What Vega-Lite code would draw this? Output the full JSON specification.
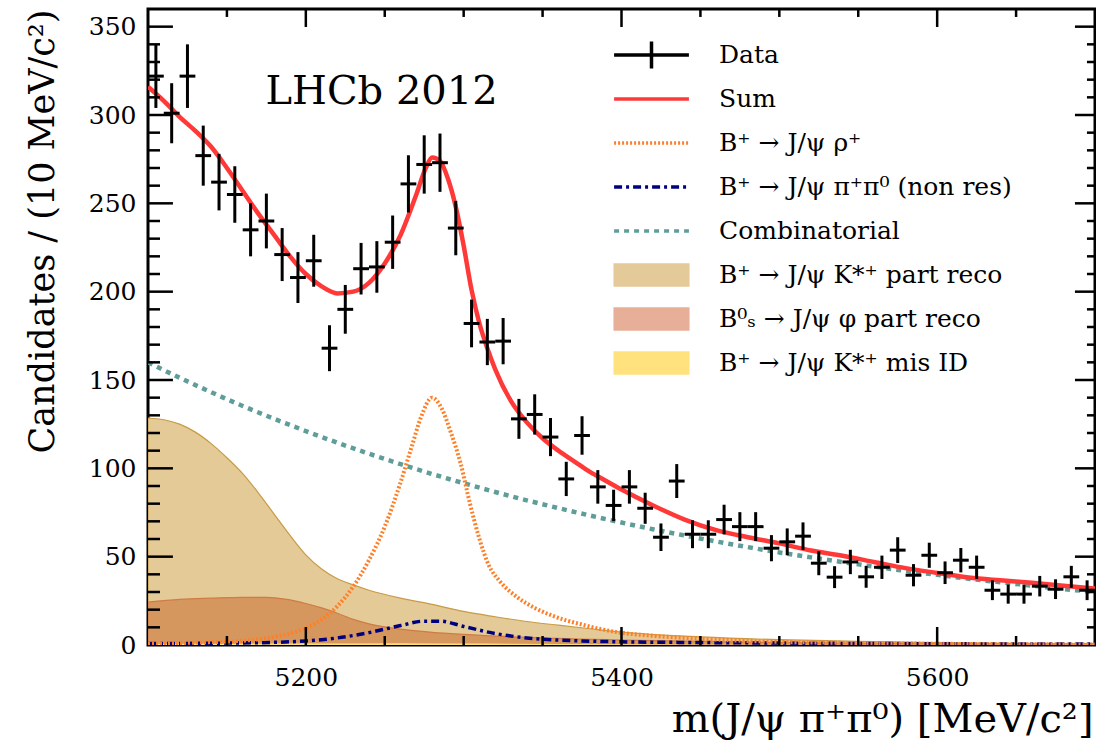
{
  "$schema": "https://vega.github.io/schema/vega-lite/v6.json",
  "width": 947,
  "height": 636,
  "autosize": {"type": "none"},
  "padding": {"left": 148, "top": 9, "right": 1, "bottom": 98},
  "background": "white",
  "config": {
    "view": {"stroke": "#000000", "strokeWidth": 3},
    "axis": {"domain": false, "grid": false, "ticks": false, "tickSize": 0, "labelFont": "DejaVu Serif", "titleFont": "DejaVu Serif", "labelFontSize": 25, "labelColor": "#000000", "titleColor": "#000000", "titleFontWeight": "normal", "labelFlush": false}
  },
  "datasets": {
    "pts": [
      {"m":5105,"n":322,"lo":304,"hi":340,"mlo":5100,"mhi":5110},
      {"m":5115,"n":301,"lo":284,"hi":318,"mlo":5110,"mhi":5120},
      {"m":5125,"n":322,"lo":304,"hi":340,"mlo":5120,"mhi":5130},
      {"m":5135,"n":277,"lo":260,"hi":294,"mlo":5130,"mhi":5140},
      {"m":5145,"n":262,"lo":246,"hi":278,"mlo":5140,"mhi":5150},
      {"m":5155,"n":255,"lo":239,"hi":271,"mlo":5150,"mhi":5160},
      {"m":5165,"n":235,"lo":220,"hi":250,"mlo":5160,"mhi":5170},
      {"m":5175,"n":240,"lo":224.5,"hi":255.5,"mlo":5170,"mhi":5180},
      {"m":5185,"n":221,"lo":206,"hi":236,"mlo":5180,"mhi":5190},
      {"m":5195,"n":208,"lo":193.6,"hi":222.4,"mlo":5190,"mhi":5200},
      {"m":5205,"n":217.5,"lo":202.8,"hi":232.2,"mlo":5200,"mhi":5210},
      {"m":5215,"n":168,"lo":155,"hi":181,"mlo":5210,"mhi":5220},
      {"m":5225,"n":190,"lo":176.2,"hi":203.8,"mlo":5220,"mhi":5230},
      {"m":5235,"n":213,"lo":198.4,"hi":227.6,"mlo":5230,"mhi":5240},
      {"m":5245,"n":214,"lo":199.4,"hi":228.6,"mlo":5240,"mhi":5250},
      {"m":5255,"n":228,"lo":212.9,"hi":243.1,"mlo":5250,"mhi":5260},
      {"m":5265,"n":261,"lo":244.8,"hi":277.2,"mlo":5260,"mhi":5270},
      {"m":5275,"n":272,"lo":255.5,"hi":288.5,"mlo":5270,"mhi":5280},
      {"m":5285,"n":273,"lo":256.5,"hi":289.5,"mlo":5280,"mhi":5290},
      {"m":5295,"n":236,"lo":220.6,"hi":251.4,"mlo":5290,"mhi":5300},
      {"m":5305,"n":182,"lo":168.5,"hi":195.5,"mlo":5300,"mhi":5310},
      {"m":5315,"n":171.5,"lo":158.4,"hi":184.6,"mlo":5310,"mhi":5320},
      {"m":5325,"n":172,"lo":158.9,"hi":185.1,"mlo":5320,"mhi":5330},
      {"m":5335,"n":128,"lo":116.7,"hi":139.3,"mlo":5330,"mhi":5340},
      {"m":5345,"n":130.5,"lo":119.1,"hi":141.9,"mlo":5340,"mhi":5350},
      {"m":5355,"n":117.7,"lo":106.9,"hi":128.5,"mlo":5350,"mhi":5360},
      {"m":5365,"n":94,"lo":84.3,"hi":103.7,"mlo":5360,"mhi":5370},
      {"m":5375,"n":118.6,"lo":107.7,"hi":129.5,"mlo":5370,"mhi":5380},
      {"m":5385,"n":89.5,"lo":80,"hi":99,"mlo":5380,"mhi":5390},
      {"m":5395,"n":79,"lo":70.1,"hi":87.9,"mlo":5390,"mhi":5400},
      {"m":5405,"n":89.5,"lo":80,"hi":99,"mlo":5400,"mhi":5410},
      {"m":5415,"n":77.4,"lo":68.6,"hi":86.2,"mlo":5410,"mhi":5420},
      {"m":5425,"n":61,"lo":53.2,"hi":68.8,"mlo":5420,"mhi":5430},
      {"m":5435,"n":92.8,"lo":83.2,"hi":102.4,"mlo":5430,"mhi":5440},
      {"m":5445,"n":62.7,"lo":54.8,"hi":70.6,"mlo":5440,"mhi":5450},
      {"m":5455,"n":62.7,"lo":54.8,"hi":70.6,"mlo":5450,"mhi":5460},
      {"m":5465,"n":71,"lo":62.6,"hi":79.4,"mlo":5460,"mhi":5470},
      {"m":5475,"n":67,"lo":58.8,"hi":75.2,"mlo":5470,"mhi":5480},
      {"m":5485,"n":67,"lo":58.8,"hi":75.2,"mlo":5480,"mhi":5490},
      {"m":5495,"n":54.8,"lo":47.4,"hi":62.2,"mlo":5490,"mhi":5500},
      {"m":5505,"n":58.4,"lo":50.8,"hi":66,"mlo":5500,"mhi":5510},
      {"m":5515,"n":61.6,"lo":53.8,"hi":69.4,"mlo":5510,"mhi":5520},
      {"m":5525,"n":46.3,"lo":39.5,"hi":53.1,"mlo":5520,"mhi":5530},
      {"m":5535,"n":38.4,"lo":32.2,"hi":44.6,"mlo":5530,"mhi":5540},
      {"m":5545,"n":47,"lo":40.1,"hi":53.9,"mlo":5540,"mhi":5550},
      {"m":5555,"n":38.6,"lo":32.4,"hi":44.8,"mlo":5550,"mhi":5560},
      {"m":5565,"n":44,"lo":37.4,"hi":50.6,"mlo":5560,"mhi":5570},
      {"m":5575,"n":53.7,"lo":46.4,"hi":61,"mlo":5570,"mhi":5580},
      {"m":5585,"n":39.5,"lo":33.2,"hi":45.8,"mlo":5580,"mhi":5590},
      {"m":5595,"n":50.8,"lo":43.7,"hi":57.9,"mlo":5590,"mhi":5600},
      {"m":5605,"n":40.9,"lo":34.5,"hi":47.3,"mlo":5600,"mhi":5610},
      {"m":5615,"n":48,"lo":41.1,"hi":54.9,"mlo":5610,"mhi":5620},
      {"m":5625,"n":44,"lo":37.4,"hi":50.6,"mlo":5620,"mhi":5630},
      {"m":5635,"n":31,"lo":25.4,"hi":36.6,"mlo":5630,"mhi":5640},
      {"m":5645,"n":28.8,"lo":23.4,"hi":34.2,"mlo":5640,"mhi":5650},
      {"m":5655,"n":28.8,"lo":23.4,"hi":34.2,"mlo":5650,"mhi":5660},
      {"m":5665,"n":33.3,"lo":27.5,"hi":39.1,"mlo":5660,"mhi":5670},
      {"m":5675,"n":31.6,"lo":26,"hi":37.2,"mlo":5670,"mhi":5680},
      {"m":5685,"n":38.6,"lo":32.4,"hi":44.8,"mlo":5680,"mhi":5690},
      {"m":5695,"n":31,"lo":25.4,"hi":36.6,"mlo":5690,"mhi":5700}
    ],
    "sum": [
      {"m":5100,"v":316},{"m":5110,"v":308},{"m":5120,"v":299},{"m":5130,"v":291},{"m":5140,"v":282},
      {"m":5150,"v":270},{"m":5160,"v":257},{"m":5170,"v":244},{"m":5180,"v":232},{"m":5190,"v":220},
      {"m":5200,"v":210},{"m":5210,"v":203},{"m":5220,"v":199},{"m":5230,"v":200},{"m":5240,"v":205},
      {"m":5250,"v":216},{"m":5260,"v":232},{"m":5270,"v":255},{"m":5276,"v":270},{"m":5280,"v":276},
      {"m":5285,"v":274},{"m":5290,"v":264},{"m":5295,"v":248},{"m":5300,"v":226},{"m":5305,"v":201},
      {"m":5310,"v":182},{"m":5315,"v":168},{"m":5320,"v":156},{"m":5330,"v":138},{"m":5340,"v":126},
      {"m":5350,"v":117},{"m":5360,"v":110},{"m":5370,"v":104},{"m":5380,"v":98},{"m":5390,"v":93},
      {"m":5400,"v":88},{"m":5420,"v":79},{"m":5440,"v":71},{"m":5460,"v":65},{"m":5480,"v":61},
      {"m":5500,"v":57.5},{"m":5520,"v":53.5},{"m":5540,"v":50.5},{"m":5560,"v":47},{"m":5580,"v":43.5},
      {"m":5600,"v":40.8},{"m":5620,"v":38.2},{"m":5640,"v":36.6},{"m":5660,"v":35.2},{"m":5680,"v":33.6},
      {"m":5700,"v":32}
    ],
    "comb": [
      {"m":5100,"v":160},{"m":5120,"v":151.3},{"m":5140,"v":143.1},{"m":5160,"v":135.3},{"m":5180,"v":128},
      {"m":5200,"v":121.1},{"m":5220,"v":114.5},{"m":5240,"v":108.3},{"m":5260,"v":102.4},{"m":5280,"v":96.8},
      {"m":5300,"v":91.6},{"m":5320,"v":86.6},{"m":5340,"v":81.9},{"m":5360,"v":77.5},{"m":5380,"v":73.3},
      {"m":5400,"v":69.3},{"m":5420,"v":65.5},{"m":5440,"v":62},{"m":5460,"v":58.6},{"m":5480,"v":55.4},
      {"m":5500,"v":52.4},{"m":5520,"v":49.6},{"m":5540,"v":46.9},{"m":5560,"v":44.4},{"m":5580,"v":41.9},
      {"m":5600,"v":39.7},{"m":5620,"v":37.5},{"m":5640,"v":35.5},{"m":5660,"v":33.6},{"m":5680,"v":31.7},
      {"m":5700,"v":30}
    ],
    "rho": [
      {"m":5100,"v":0.8},{"m":5120,"v":1.1},{"m":5140,"v":1.6},{"m":5160,"v":2.4},{"m":5170,"v":3.2},
      {"m":5180,"v":4.5},{"m":5190,"v":6.5},{"m":5200,"v":9.5},{"m":5210,"v":14.5},{"m":5220,"v":22},
      {"m":5230,"v":33},{"m":5240,"v":48},{"m":5250,"v":67},{"m":5260,"v":92},{"m":5267,"v":112},
      {"m":5273,"v":129},{"m":5280,"v":140},{"m":5286,"v":134},{"m":5292,"v":120},{"m":5298,"v":103},
      {"m":5304,"v":80},{"m":5310,"v":60},{"m":5316,"v":45},{"m":5323,"v":36},{"m":5334,"v":27},
      {"m":5345,"v":21},{"m":5355,"v":17},{"m":5376,"v":11.3},{"m":5397,"v":7.3},{"m":5420,"v":5.2},
      {"m":5440,"v":4},{"m":5480,"v":2.3},{"m":5540,"v":1.2},{"m":5600,"v":0.7},{"m":5700,"v":0.3}
    ],
    "nonres": [
      {"m":5100,"v":0.8},{"m":5140,"v":1},{"m":5180,"v":1.5},{"m":5200,"v":2.3},{"m":5220,"v":4},
      {"m":5240,"v":7},{"m":5260,"v":11},{"m":5275,"v":13.5},{"m":5285,"v":13.5},{"m":5300,"v":10.5},
      {"m":5320,"v":6.5},{"m":5340,"v":4},{"m":5360,"v":2.8},{"m":5400,"v":1.8},{"m":5450,"v":1.4},
      {"m":5500,"v":1.1},{"m":5600,"v":0.7},{"m":5700,"v":0.5}
    ],
    "kpart": [
      {"m":5100,"v":128.5},{"m":5110,"v":127.5},{"m":5120,"v":125},{"m":5130,"v":120.5},{"m":5140,"v":114},
      {"m":5150,"v":106},{"m":5160,"v":97},{"m":5170,"v":86},{"m":5180,"v":74},{"m":5190,"v":62},
      {"m":5200,"v":51},{"m":5210,"v":43},{"m":5220,"v":37.5},{"m":5230,"v":34},{"m":5240,"v":31},
      {"m":5260,"v":26.5},{"m":5280,"v":23},{"m":5300,"v":19},{"m":5320,"v":16},{"m":5340,"v":13.3},
      {"m":5360,"v":11.2},{"m":5380,"v":9.2},{"m":5400,"v":7.3},{"m":5450,"v":4.6},{"m":5500,"v":3},
      {"m":5550,"v":2.1},{"m":5600,"v":1.4},{"m":5650,"v":1},{"m":5700,"v":0.7}
    ],
    "bs": [
      {"m":5100,"v":24.3},{"m":5120,"v":25.8},{"m":5140,"v":26.5},{"m":5160,"v":27},{"m":5175,"v":27},
      {"m":5190,"v":25.5},{"m":5200,"v":23.5},{"m":5210,"v":21},{"m":5220,"v":18},{"m":5230,"v":14.5},
      {"m":5240,"v":12},{"m":5260,"v":9},{"m":5280,"v":7.2},{"m":5300,"v":6},{"m":5340,"v":4.3},
      {"m":5400,"v":2.8},{"m":5450,"v":2.1},{"m":5500,"v":1.3},{"m":5600,"v":0.7},{"m":5700,"v":0.4}
    ],
    "misid": [
      {"m":5100,"v":0.6},{"m":5200,"v":0.8},{"m":5260,"v":1},{"m":5300,"v":0.8},{"m":5400,"v":0.4},
      {"m":5500,"v":0.2},{"m":5700,"v":0.1}
    ],
    "ymaj": [{"v":50},{"v":100},{"v":150},{"v":200},{"v":250},{"v":300},{"v":350}],
    "ymin": [{"v":10},{"v":20},{"v":30},{"v":40},{"v":60},{"v":70},{"v":80},{"v":90},{"v":110},{"v":120},{"v":130},{"v":140},{"v":160},{"v":170},{"v":180},{"v":190},{"v":210},{"v":220},{"v":230},{"v":240},{"v":260},{"v":270},{"v":280},{"v":290},{"v":310},{"v":320},{"v":330},{"v":340}],
    "xmaj": [{"m":5200},{"m":5400},{"m":5600}],
    "xmin": [{"m":5150},{"m":5250},{"m":5300},{"m":5350},{"m":5450},{"m":5500},{"m":5550},{"m":5650}],
    "note": [{"label": "LHCb 2012"}]
  },
  "resolve": {"axis": {"x": "independent", "y": "independent"}},
  "layer": [
    {
      "data": {"name": "kpart"},
      "mark": {"type": "area", "interpolate": "monotone", "fill": "#E4CA97", "stroke": "#C89B45", "strokeWidth": 1.2, "clip": true},
      "encoding": {
        "x": {"field": "m", "type": "quantitative", "scale": {"domain": [5100, 5700], "nice": false, "zero": false},
              "axis": {"orient": "bottom", "values": [5200, 5400, 5600], "format": "d", "labelPadding": 20,
                       "title": "m(J/ψ π⁺π⁰) [MeV/c²]", "titleFontSize": 40, "titleAlign": "right", "titleAnchor": "end",
                       "titleX": 945, "titleY": 86, "titleBaseline": "alphabetic", "titleAngle": 0}},
        "y": {"field": "v", "type": "quantitative", "scale": {"domain": [0, 360], "nice": false, "zero": true},
              "axis": {"orient": "left", "values": [0, 50, 100, 150, 200, 250, 300, 350], "format": "d", "labelPadding": 12,
                       "title": "Candidates / (10 MeV/c²)", "titleFontSize": 35, "titleAngle": -90, "titleAlign": "right",
                       "titleAnchor": "end", "titleX": -106, "titleY": 0, "titleBaseline": "middle"}}
      }
    },
    {
      "data": {"name": "bs"},
      "mark": {"type": "area", "interpolate": "monotone", "fill": "#D6975F", "stroke": "#CF7B45", "strokeWidth": 1.2, "clip": true},
      "encoding": {
        "x": {"field": "m", "type": "quantitative", "scale": {"domain": [5100, 5700], "nice": false, "zero": false}, "axis": null},
        "y": {"field": "v", "type": "quantitative", "scale": {"domain": [0, 360], "nice": false}, "axis": null}
      }
    },
    {
      "data": {"name": "misid"},
      "mark": {"type": "area", "interpolate": "monotone", "fill": "#FFE17A", "clip": true},
      "encoding": {
        "x": {"field": "m", "type": "quantitative", "scale": {"domain": [5100, 5700], "nice": false, "zero": false}, "axis": null},
        "y": {"field": "v", "type": "quantitative", "scale": {"domain": [0, 360], "nice": false}, "axis": null}
      }
    },
    {
      "data": {"name": "comb"},
      "mark": {"type": "line", "interpolate": "monotone", "stroke": "#5F9D99", "strokeWidth": 4.5, "strokeDash": [5, 5], "clip": true},
      "encoding": {
        "x": {"field": "m", "type": "quantitative", "scale": {"domain": [5100, 5700], "nice": false, "zero": false}, "axis": null},
        "y": {"field": "v", "type": "quantitative", "scale": {"domain": [0, 360], "nice": false}, "axis": null}
      }
    },
    {
      "data": {"name": "nonres"},
      "mark": {"type": "line", "interpolate": "monotone", "stroke": "#00007F", "strokeWidth": 3.5, "strokeDash": [8, 4, 3, 4], "clip": true},
      "encoding": {
        "x": {"field": "m", "type": "quantitative", "scale": {"domain": [5100, 5700], "nice": false, "zero": false}, "axis": null},
        "y": {"field": "v", "type": "quantitative", "scale": {"domain": [0, 360], "nice": false}, "axis": null}
      }
    },
    {
      "data": {"name": "rho"},
      "mark": {"type": "line", "interpolate": "monotone", "stroke": "#FF7F27", "strokeWidth": 4, "strokeDash": [2, 2], "clip": true},
      "encoding": {
        "x": {"field": "m", "type": "quantitative", "scale": {"domain": [5100, 5700], "nice": false, "zero": false}, "axis": null},
        "y": {"field": "v", "type": "quantitative", "scale": {"domain": [0, 360], "nice": false}, "axis": null}
      }
    },
    {
      "data": {"name": "sum"},
      "mark": {"type": "line", "interpolate": "monotone", "stroke": "#FF3838", "strokeWidth": 4.5, "clip": true},
      "encoding": {
        "x": {"field": "m", "type": "quantitative", "scale": {"domain": [5100, 5700], "nice": false, "zero": false}, "axis": null},
        "y": {"field": "v", "type": "quantitative", "scale": {"domain": [0, 360], "nice": false}, "axis": null}
      }
    },
    {
      "data": {"name": "pts"},
      "mark": {"type": "rule", "stroke": "#000000", "strokeWidth": 3, "clip": true},
      "encoding": {
        "x": {"field": "m", "type": "quantitative", "scale": {"domain": [5100, 5700], "nice": false, "zero": false}, "axis": null},
        "y": {"field": "lo", "type": "quantitative", "scale": {"domain": [0, 360], "nice": false}, "axis": null},
        "y2": {"field": "hi"}
      }
    },
    {
      "data": {"name": "pts"},
      "mark": {"type": "rule", "stroke": "#000000", "strokeWidth": 3, "clip": true},
      "encoding": {
        "x": {"field": "mlo", "type": "quantitative", "scale": {"domain": [5100, 5700], "nice": false, "zero": false}, "axis": null},
        "x2": {"field": "mhi"},
        "y": {"field": "n", "type": "quantitative", "scale": {"domain": [0, 360], "nice": false}, "axis": null}
      }
    },
    {
      "data": {"name": "ymaj"},
      "mark": {"type": "rule", "stroke": "#000000", "strokeWidth": 2.5},
      "encoding": {
        "y": {"field": "v", "type": "quantitative", "scale": {"domain": [0, 360], "nice": false}, "axis": null},
        "x": {"datum": 5100, "type": "quantitative", "scale": {"domain": [5100, 5700], "nice": false, "zero": false}, "axis": null},
        "x2": {"datum": 5115.8}
      }
    },
    {
      "data": {"name": "ymin"},
      "mark": {"type": "rule", "stroke": "#000000", "strokeWidth": 2.5},
      "encoding": {
        "y": {"field": "v", "type": "quantitative", "scale": {"domain": [0, 360], "nice": false}, "axis": null},
        "x": {"datum": 5100, "type": "quantitative", "scale": {"domain": [5100, 5700], "nice": false, "zero": false}, "axis": null},
        "x2": {"datum": 5107.6}
      }
    },
    {
      "data": {"name": "ymaj"},
      "mark": {"type": "rule", "stroke": "#000000", "strokeWidth": 2.5},
      "encoding": {
        "y": {"field": "v", "type": "quantitative", "scale": {"domain": [0, 360], "nice": false}, "axis": null},
        "x": {"datum": 5687.3, "type": "quantitative", "scale": {"domain": [5100, 5700], "nice": false, "zero": false}, "axis": null},
        "x2": {"datum": 5700}
      }
    },
    {
      "data": {"name": "ymin"},
      "mark": {"type": "rule", "stroke": "#000000", "strokeWidth": 2.5},
      "encoding": {
        "y": {"field": "v", "type": "quantitative", "scale": {"domain": [0, 360], "nice": false}, "axis": null},
        "x": {"datum": 5694.9, "type": "quantitative", "scale": {"domain": [5100, 5700], "nice": false, "zero": false}, "axis": null},
        "x2": {"datum": 5700}
      }
    },
    {
      "data": {"name": "xmaj"},
      "mark": {"type": "rule", "stroke": "#000000", "strokeWidth": 2.5},
      "encoding": {
        "x": {"field": "m", "type": "quantitative", "scale": {"domain": [5100, 5700], "nice": false, "zero": false}, "axis": null},
        "y": {"datum": 0, "type": "quantitative", "scale": {"domain": [0, 360], "nice": false}, "axis": null},
        "y2": {"datum": 10.2}
      }
    },
    {
      "data": {"name": "xmin"},
      "mark": {"type": "rule", "stroke": "#000000", "strokeWidth": 2.5},
      "encoding": {
        "x": {"field": "m", "type": "quantitative", "scale": {"domain": [5100, 5700], "nice": false, "zero": false}, "axis": null},
        "y": {"datum": 0, "type": "quantitative", "scale": {"domain": [0, 360], "nice": false}, "axis": null},
        "y2": {"datum": 5.1}
      }
    },
    {
      "data": {"name": "xmaj"},
      "mark": {"type": "rule", "stroke": "#000000", "strokeWidth": 2.5},
      "encoding": {
        "x": {"field": "m", "type": "quantitative", "scale": {"domain": [5100, 5700], "nice": false, "zero": false}, "axis": null},
        "y": {"datum": 349.8, "type": "quantitative", "scale": {"domain": [0, 360], "nice": false}, "axis": null},
        "y2": {"datum": 360}
      }
    },
    {
      "data": {"name": "xmin"},
      "mark": {"type": "rule", "stroke": "#000000", "strokeWidth": 2.5},
      "encoding": {
        "x": {"field": "m", "type": "quantitative", "scale": {"domain": [5100, 5700], "nice": false, "zero": false}, "axis": null},
        "y": {"datum": 355.5, "type": "quantitative", "scale": {"domain": [0, 360], "nice": false}, "axis": null},
        "y2": {"datum": 360}
      }
    },
    {
      "data": {"name": "note"},
      "mark": {"type": "text", "font": "DejaVu Serif", "fontSize": 40, "color": "#000000", "align": "center", "baseline": "middle"},
      "encoding": {
        "x": {"datum": 5248, "type": "quantitative", "scale": {"domain": [5100, 5700], "nice": false, "zero": false}, "axis": null},
        "y": {"datum": 313, "type": "quantitative", "scale": {"domain": [0, 360], "nice": false}, "axis": null},
        "text": {"field": "label"}
      }
    },
    {
      "data": {"name": "sum"},
      "transform": [{"filter": "false"}],
      "mark": {"type": "point", "filled": false, "opacity": 1},
      "encoding": {
        "x": {"field": "m", "type": "quantitative", "scale": {"domain": [5100, 5700], "nice": false, "zero": false}, "axis": null},
        "y": {"field": "v", "type": "quantitative", "scale": {"domain": [0, 360], "nice": false}, "axis": null},
        "color": {
          "field": "comp", "type": "nominal",
          "scale": {
            "domain": ["Data", "Sum", "B⁺ → J/ψ ρ⁺", "B⁺ → J/ψ π⁺π⁰ (non res)", "Combinatorial", "B⁺ → J/ψ K*⁺ part reco", "B⁰ₛ → J/ψ φ part reco", "B⁺ → J/ψ K*⁺ mis ID"],
            "range": ["#000000", "#FF3838", "#FF7F27", "#00007F", "#5F9D99", "#E3CA98", "#E7AF97", "#FFE27E"]
          },
          "legend": {
            "orient": "none", "legendX": 464, "legendY": 31, "title": null,
            "clipHeight": 30, "rowPadding": 14, "labelOffset": 28, "symbolOffset": 0, "padding": 0,
            "symbolSize": 5600, "symbolStrokeWidth": 3.5, "symbolOpacity": 1,
            "labelFont": "DejaVu Serif", "labelFontSize": 25, "labelColor": "#000000", "labelLimit": 600
          }
        },
        "fill": {
          "field": "comp", "type": "nominal",
          "scale": {
            "domain": ["Data", "Sum", "B⁺ → J/ψ ρ⁺", "B⁺ → J/ψ π⁺π⁰ (non res)", "Combinatorial", "B⁺ → J/ψ K*⁺ part reco", "B⁰ₛ → J/ψ φ part reco", "B⁺ → J/ψ K*⁺ mis ID"],
            "range": ["transparent", "transparent", "transparent", "transparent", "transparent", "#E3CA98", "#E7AF97", "#FFE27E"]
          }
        },
        "shape": {
          "field": "comp", "type": "nominal",
          "scale": {
            "domain": ["Data", "Sum", "B⁺ → J/ψ ρ⁺", "B⁺ → J/ψ π⁺π⁰ (non res)", "Combinatorial", "B⁺ → J/ψ K*⁺ part reco", "B⁰ₛ → J/ψ φ part reco", "B⁺ → J/ψ K*⁺ mis ID"],
            "range": ["M-1,0H1M0,-0.36V0.36", "M-1,0H1", "M-1,0H1", "M-1,0H1", "M-1,0H1", "M-0.97,-0.27H0.97V0.27H-0.97Z", "M-0.97,-0.27H0.97V0.27H-0.97Z", "M-0.97,-0.27H0.97V0.27H-0.97Z"]
          }
        },
        "strokeDash": {
          "field": "comp", "type": "nominal",
          "scale": {
            "domain": ["Data", "Sum", "B⁺ → J/ψ ρ⁺", "B⁺ → J/ψ π⁺π⁰ (non res)", "Combinatorial", "B⁺ → J/ψ K*⁺ part reco", "B⁰ₛ → J/ψ φ part reco", "B⁺ → J/ψ K*⁺ mis ID"],
            "range": [[10, 0], [10, 0], [2, 2], [8, 4, 3, 4], [5, 5], [10, 0], [10, 0], [10, 0]]
          }
        }
      }
    }
  ]
}
